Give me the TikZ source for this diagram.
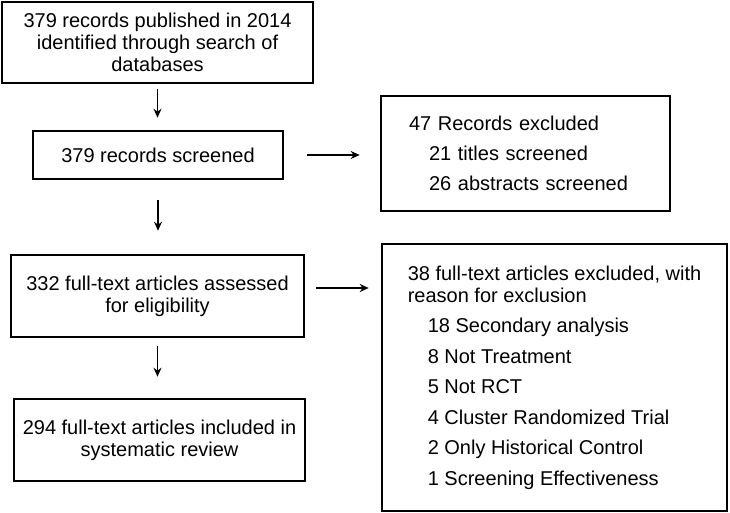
\documentclass[tikz,border=0pt]{standalone}
\usepackage{fontspec}
\setmainfont{Liberation Sans}
\usetikzlibrary{arrows.meta}

\tikzset{
    box/.style={draw, line width=2.6pt, inner sep=0pt, align=center,
        font=\fontsize{20}{22}\selectfont},
    listbox/.style={box, align=left, inner xsep=28pt},
    arr/.style={line width=1.3pt, -{Stealth[length=9pt,width=8pt]}}
}
\newcommand{\ind}{\hspace*{20pt}}

\begin{document}
\begin{tikzpicture}[x=1pt,y=-1pt]
    %\draw[gray!50, thin, step=50] (0,0) grid (730,513);
    \useasboundingbox (0,0) rectangle (730,513);

    \node[box, minimum width=311pt, minimum height=81pt] (ident) at (157.5,42.5)
        {379 records published in 2014\\identified through search of\\databases};
    \node[box, minimum width=250pt, minimum height=48pt] (screen) at (158,155)
        {379 records screened};
    \node[box, minimum width=293pt, minimum height=82pt] (elig) at (157.5,296)
        {332 full-text articles assessed\\for eligibility};
    \node[box, minimum width=291pt, minimum height=82pt] (incl) at (159.5,440)
        {294 full-text articles included in\\systematic review};

    \node[listbox, text width=233pt, minimum width=289pt, minimum height=115pt] (excl) at (525.5,153.5)
        {47 Records excluded\\[8pt]
         \ind 21 titles screened\\[8pt]
         \ind 26 abstracts screened};
    \node[box, align=left, minimum width=345pt, minimum height=267pt] (reason) at (554.5,377.5)
        {38 full-text articles excluded, with\\
         reason for exclusion\\[8.5pt]
         \ind 18 Secondary analysis\\[8.5pt]
         \ind 8 Not Treatment\\[8.5pt]
         \ind 5 Not RCT\\[8.5pt]
         \ind 4 Cluster Randomized Trial\\[8.5pt]
         \ind 2 Only Historical Control\\[8.5pt]
         \ind 1 Screening Effectiveness};

    \draw[arr, shorten <=5pt, shorten >=12pt] (ident.south) -- (ident.south |- screen.north);
    \draw[arr, shorten <=20pt, shorten >=23pt] (screen.south) -- (screen.south |- elig.north);
    \draw[arr, shorten <=8pt, shorten >=21pt] (elig.south) -- (elig.south |- incl.north);

    \draw[arr, shorten <=23pt, shorten >=20pt] (screen.east) -- (screen.east -| excl.west);
    \draw[arr, shorten <=11pt, shorten >=12pt] ([yshift=8pt]elig.east) -- ([yshift=8pt]elig.east -| reason.west);

\end{tikzpicture}
\end{document}
